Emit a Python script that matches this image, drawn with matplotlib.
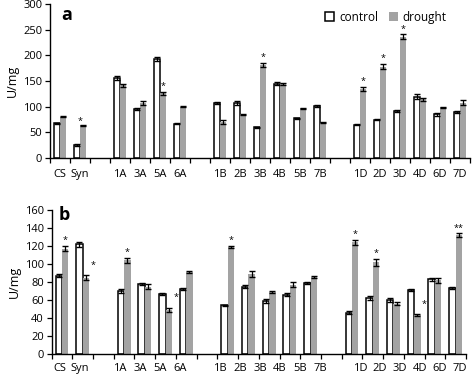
import numpy as np
import matplotlib
matplotlib.use('Agg')
import matplotlib.pyplot as plt
import matplotlib.transforms as mtransforms
from matplotlib.patches import Patch

plt.rcParams['font.family'] = ['Open Sans', 'DejaVu Sans']

# ---- data, panel a ----
a_labels = ['CS', 'Syn', '', '1A', '3A', '5A', '6A', '', '1B', '2B', '3B', '4B', '5B', '7B',
            '', '1D', '2D', '3D', '4D', '6D', '7D']
a_control = [68, 26, None, 156, 96, 192, 67, None, 107, 107, 60, 145, 77, 101,
             None, 65, 75, 91, 119, 85, 89]
a_control_err = [1, 2, None, 4, 2, 4, 1, None, 2, 4, 1, 3, 1, 2, None, 1, 1, 2, 5, 3, 2]
a_drought = [80, 64, None, 142, 107, 126, 100, None, 71, 85, 181, 144, 97, 69,
             None, 134, 178, 236, 114, 99, 108]
a_drought_err = [1, 1, None, 3, 4, 3, 1, None, 4, 1, 4, 2, 1, 1, None, 4, 5, 5, 3, 1, 5]
a_signif = ['', '*', '', '', '', '*', '', '', '', '', '*', '', '', '', '', '*', '*', '*', '', '', '']

# ---- data, panel b (bars) ----
b_groups = ['CS', 'Syn', '', '1A', '3A', '5A', '6A', '', '1B', '2B', '3B', '4B', '5B',
            '', '1D', '2D', '3D', '4D', '6D', '7D']
b_control = [87, 122, None, 70, 78, 67, 72, None, 54, 75, 59, 66, 79,
             None, 46, 62, 60, 71, 83, 73]
b_control_err = [1.5, 3, None, 2.5, 1, 1, 1, None, 1, 1.5, 2, 2, 1, None, 1.5, 2, 2, 1, 2, 1]
b_drought = [117, 85, None, 104, 75, 49, 91, None, 119, 89, 69, 77, 86,
             None, 124, 102, 56, 43, 82, 132]
b_drought_err = [3, 2.5, None, 3, 3, 2, 1.5, None, 1.5, 3, 1, 3, 1, None, 3, 4, 2, 1, 3, 2]
b_signif = ['*', '*', '', '*', '', '*', '', '', '*', '', '', '', '', '', '*', '*', '', '*', '', '**']
# x tick labels printed under panel b (not aligned with the bars in the original)
b_labels = a_labels

GRAY = '#a3a3a3'
W = 0.31
# where the asterisk sits relative to the drought bar: 'l' left edge, 'r' off to the right
star_side_a = {'Syn': 'l'}
star_side_b = {'Syn': 'r', '5A': 'r', '4D': 'r'}


def draw_panel(ax, names, ctrl, ctrl_err, drt, drt_err, signif, star_side, ymax, ystep):
    n = len(names)
    for i in range(n):
        if ctrl[i] is None:
            continue
        ax.bar(i - W / 2, ctrl[i], W, color='white', edgecolor='black', linewidth=1.1, zorder=2)
        ax.bar(i + W / 2, drt[i], W, color=GRAY, edgecolor='none', zorder=2)
        ax.errorbar(i - W / 2, ctrl[i], yerr=ctrl_err[i], fmt='none', ecolor='black',
                    elinewidth=0.9, capsize=2.2, capthick=1.0, zorder=3)
        ax.errorbar(i + W / 2, drt[i], yerr=drt_err[i], fmt='none', ecolor='black',
                    elinewidth=0.9, capsize=2.2, capthick=1.0, zorder=3)
        if signif[i]:
            top = drt[i] + drt_err[i]
            side = star_side.get(names[i], 'c')
            if side == 'r':
                ax.text(i + W * 1.6, top + ymax * 0.04, signif[i], ha='center', va='bottom',
                        fontsize=6.5)
            elif side == 'l':
                ax.text(i, top - ymax * 0.01, signif[i], ha='center', va='bottom',
                        fontsize=6.5)
            else:
                ax.text(i + W / 2, top + ymax * 0.005, signif[i], ha='center', va='bottom',
                        fontsize=6.5)
    ax.set_xlim(-0.5, n - 0.5)
    ax.set_ylim(0, ymax)
    ax.set_yticks(np.arange(0, ymax + 1, ystep))
    ax.set_xticks(np.arange(-0.5, n, 1.0), minor=True)
    ax.tick_params(axis='x', which='minor', length=3.5, width=0.9, direction='out')
    ax.tick_params(axis='y', length=3.5, width=0.9, direction='out', labelsize=8, pad=2)
    for s in ['top', 'right']:
        ax.spines[s].set_visible(False)
    for s in ['left', 'bottom']:
        ax.spines[s].set_linewidth(1.0)
    ax.set_ylabel('U/mg', fontsize=9, labelpad=3)


fig = plt.figure(figsize=(4.74, 3.89), dpi=100)
ax_a = fig.add_axes([50 / 474, (389 - 158) / 389, 420 / 474, 154 / 389])
ax_b = fig.add_axes([51.6 / 474, (389 - 354) / 389, 414.4 / 474, 144 / 389])

draw_panel(ax_a, a_labels, a_control, a_control_err, a_drought, a_drought_err,
           a_signif, star_side_a, 300, 50)
draw_panel(ax_b, b_groups, b_control, b_control_err, b_drought, b_drought_err,
           b_signif, star_side_b, 160, 20)

ax_a.set_xticks(np.arange(len(a_labels)))
ax_a.set_xticklabels(a_labels, fontsize=8)
ax_a.tick_params(axis='x', which='major', length=0, pad=8)

# panel b labels sit on the same grid as panel a
ax_b.set_xticks([])
trans = mtransforms.blended_transform_factory(ax_a.transData, ax_b.transAxes)
for i, lab in enumerate(b_labels):
    if lab:
        ax_b.text(i, -0.1, lab, transform=trans, ha='center', va='center', fontsize=8)

ax_a.text(0.04, 0.985, 'a', transform=ax_a.transAxes, fontsize=13, fontweight='bold',
          ha='center', va='top')
ax_b.text(0.03, 1.03, 'b', transform=ax_b.transAxes, fontsize=13, fontweight='bold',
          ha='center', va='top')

handles = [Patch(facecolor='white', edgecolor='black', linewidth=1.1, label='control'),
           Patch(facecolor=GRAY, edgecolor='none', label='drought')]
fig.legend(handles=handles, loc='center right', bbox_to_anchor=(0.955, 0.955), ncol=2,
           frameon=False, fontsize=8.5, handlelength=0.8, handleheight=0.8,
           handletextpad=0.4, columnspacing=0.9, borderpad=0)

fig.savefig('out.png', dpi=100)
